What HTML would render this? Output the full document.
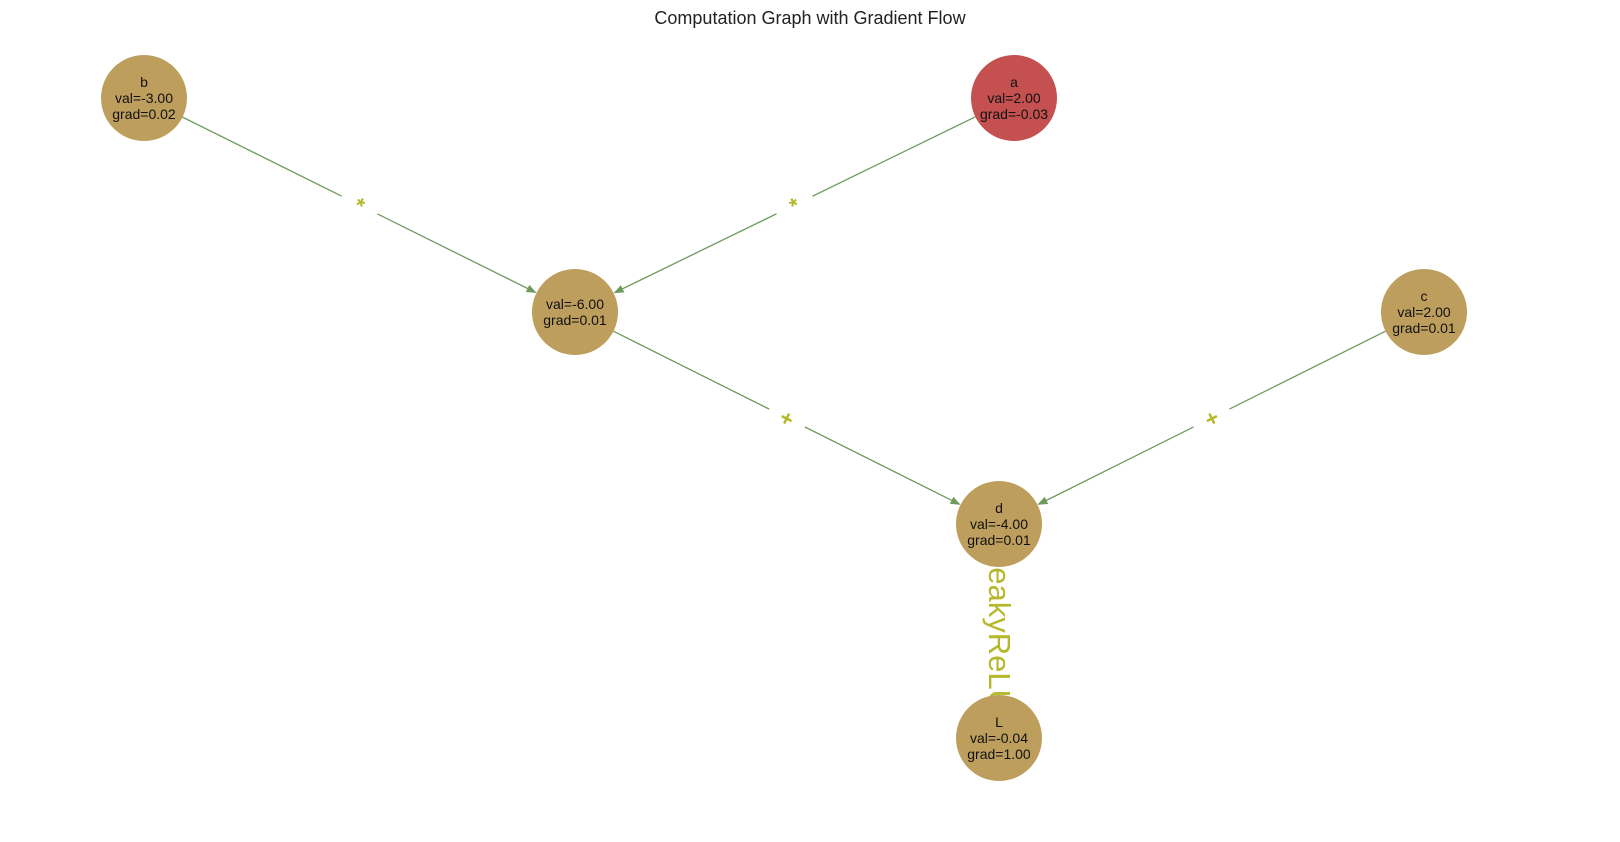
<!DOCTYPE html>
<html><head><meta charset="utf-8"><style>
html,body{margin:0;padding:0;background:#fff;}
svg{display:block;font-family:"Liberation Sans",Arial,sans-serif;}
</style></head><body>
<svg id="chart" width="1620" height="842" viewBox="0 0 1620 842">
<defs><marker id="arr" markerWidth="10" markerHeight="8" refX="9" refY="4" orient="auto" markerUnits="userSpaceOnUse"><path d="M0,0 L10,4 L0,8 z" fill="#6e9a5c"/></marker></defs>
<text x="810" y="24" text-anchor="middle" font-size="18" fill="#222">Computation Graph with Gradient Flow</text>
<g id="edges"></g><g id="elabels"></g><g id="nodes"></g>
</svg>
<script>
const nodeIds=['b','a','m','c','d','L'];
const nodeX=[144,1014,575,1424,999,999];
const nodeY=[98,98,312,312,524,738];
const nodeLabels=['b\nval=-3.00\ngrad=0.02','a\nval=2.00\ngrad=-0.03','val=-6.00\ngrad=0.01','c\nval=2.00\ngrad=0.01','d\nval=-4.00\ngrad=0.01','L\nval=-0.04\ngrad=1.00'];
const nodeColors=['#bd9e5c','#c45050','#bd9e5c','#bd9e5c','#bd9e5c','#bd9e5c'];
const edgeFrom=[0,1,2,3,4];
const edgeTo=[2,2,4,4,5];
const edgeOps=['*','*','+','+','LeakyReLU'];
const NS='http://www.w3.org/2000/svg';
const R=43;
const eg=document.getElementById('edges'),lg=document.getElementById('elabels'),ng=document.getElementById('nodes');
function mk(t,a,p){const e=document.createElementNS(NS,t);for(const k in a)e.setAttribute(k,a[k]);p.appendChild(e);return e;}
edgeFrom.forEach((f,i)=>{
  const t=edgeTo[i];
  const x1=nodeX[f],y1=nodeY[f],x2=nodeX[t],y2=nodeY[t];
  const dx=x2-x1,dy=y2-y1,len=Math.hypot(dx,dy),ux=dx/len,uy=dy/len;
  const mx=(x1+x2)/2,my=(y1+y2)/2;
  let ang=Math.atan2(dy,dx)*180/Math.PI;
  if(ang>90)ang-=180; if(ang<-90)ang+=180;
  if(edgeOps[i].length===1){
    const ln=mk('line',{x1:x1+ux*R,y1:y1+uy*R,x2:x2-ux*(R+1),y2:y2-uy*(R+1),stroke:'#6e9a5c','stroke-width':1.3,'marker-end':'url(#arr)'},eg);
    
    
    const bg=mk('rect',{x:-20,y:-12,width:40,height:24,fill:'#fff',transform:'translate('+mx+','+my+') rotate('+ang+')'},lg);
    
    
    const tx=mk('text',{x:0,y:8,'text-anchor':'middle','font-size':22,'font-weight':'bold',fill:'#b5b82a',transform:'translate('+mx+','+my+') rotate('+ang+')'},lg);
    tx.textContent=edgeOps[i];
    
    
  } else {
    const tx=mk('text',{x:0,y:0,'text-anchor':'middle','font-size':31,fill:'#b5b82a',transform:'translate('+(mx-10)+','+my+') rotate(90)'},lg);
    tx.textContent=edgeOps[i];
    
    
  }
});
nodeIds.forEach((id,i)=>{
  const g=mk('g',{},ng);
  
  
  mk('circle',{cx:nodeX[i],cy:nodeY[i],r:R,fill:nodeColors[i]},g);
  const lines=nodeLabels[i].split('\n');
  const lh=16,y0=nodeY[i]-(lines.length-1)*lh/2+5;
  lines.forEach((s,j)=>{const t=mk('text',{x:nodeX[i],y:y0+j*lh,'text-anchor':'middle','font-size':14,fill:'#111'},g);t.textContent=s;});
});
</script>
</body></html>
